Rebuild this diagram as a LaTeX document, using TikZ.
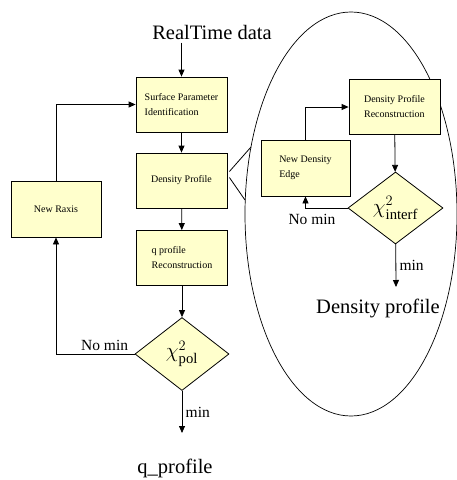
\documentclass[tikz,border=0pt]{standalone}
\usepackage{fontspec}
\setmainfont{Liberation Serif}
\usepackage{amsmath}
\usepackage{tikz}
\usetikzlibrary{positioning,arrows.meta,shapes.geometric,calc}
\definecolor{boxfill}{RGB}{255,255,204}
\tikzset{
    flow box/.style={rectangle, draw, line width=0.8pt, fill=boxfill, minimum width=91pt, minimum height=55pt, inner sep=2pt, font=\fontsize{10}{15}\selectfont},
    decision/.style={diamond, draw, line width=0.8pt, fill=boxfill, minimum width=94pt, minimum height=73pt, inner sep=0pt, font=\fontsize{21}{21}\selectfont},
    flow arrow/.style={-{Triangle[length=7pt,width=6pt]}, line width=0.8pt},
    flow line/.style={line width=0.8pt},
    big label/.style={font=\fontsize{20.5}{22}\selectfont},
    branch label/.style={font=\fontsize{15.5}{17}\selectfont}
}
\begin{document}
\begin{tikzpicture}[x=1pt, y=-1pt]
    \useasboundingbox (0,0) rectangle (456,480);

    % Main loop
    \node[big label] (rtdata) at (212,32) {RealTime data};
    \node[flow box, align=left] (spi) at (181.5,104.5) {Surface Parameter\\Identification};
    \node[flow box] (dp) at (181.5,180.5) {Density Profile};
    \node[flow box, align=left] (qpr) at (182,258) {q profile\\Reconstruction};
    \node[decision] (chipol) at (182,354) {$\chi^{2}_{\text{pol}}$};
    \node[flow box, minimum width=90pt, minimum height=56pt] (nraxis) at (56,209) {New Raxis};
    \coordinate (qout) at (182,433);
    \node[big label] (qprofile) at (175,468) {q\_profile};

    \draw[flow arrow] (spi.north |- rtdata.south) -- (spi.north);
    \draw[flow arrow] (spi) -- (dp);
    \draw[flow arrow] (dp) -- (qpr);
    \draw[flow arrow] (qpr) -- (chipol);
    \draw[flow arrow] (chipol) -- node[branch label, right] {min} (qout);
    \draw[flow arrow] (chipol.west) -| (nraxis.south);
    \node[branch label, above left=0pt and 3pt of chipol.west] (nominpol) {No min};
    \draw[flow arrow] (nraxis.north) |- (spi.west);

    % Zoom on the density profile step
    \draw[line width=0.7pt] (351pt,-214pt) ellipse [x radius=106pt, y radius=202pt];
    \coordinate (zu) at (251,147);
    \coordinate (zl) at (245,200);
    \draw[flow line] ($(dp.east)+(2,-9)$) -- (zu);
    \draw[flow line] ($(dp.east)+(2,-3)$) -- (zl);

    \node[flow box, align=left] (dpr) at (394.5,107) {Density Profile\\Reconstruction};
    \node[flow box, align=left, minimum width=89pt, minimum height=56pt] (nde) at (305.5,168) {New Density\\Edge};
    \node[decision, minimum width=95pt, minimum height=72pt] (chiint) at (395.5,208) {$\chi^{2}_{\text{interf}}$};
    \coordinate (dout) at (396,287);
    \node[big label] (dprofile) at (378,308) {Density profile};

    \draw[flow arrow] (nde.north) |- (dpr.west);
    \draw[flow arrow] (dpr) -- (chiint);
    \draw[flow arrow] (chiint.west) -| (nde.south);
    \node[branch label] (nominint) at (312,219) {No min};
    \draw[flow arrow] (chiint) -- node[branch label, right] {min} (dout);
\end{tikzpicture}
\end{document}
